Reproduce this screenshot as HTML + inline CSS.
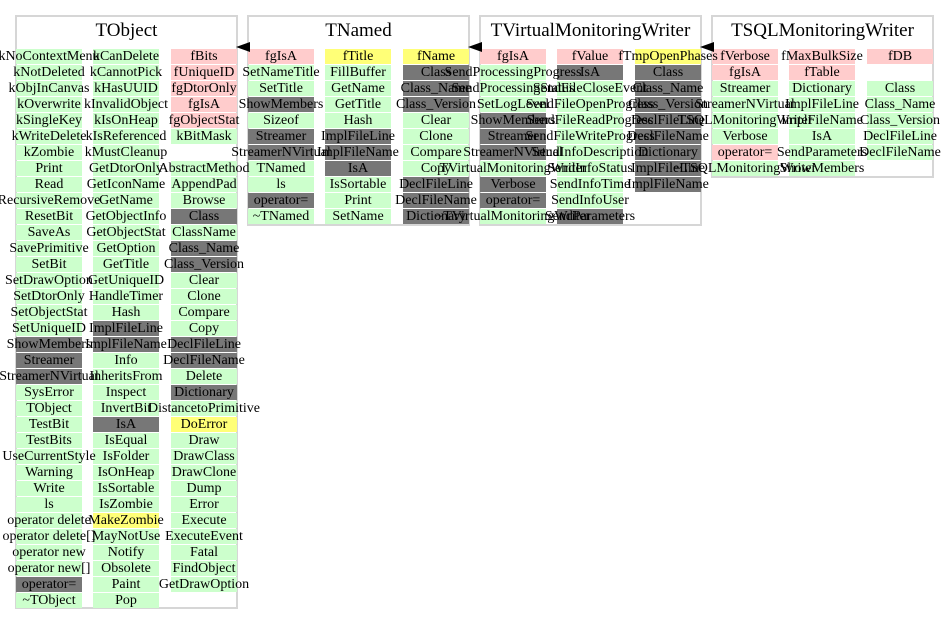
<!DOCTYPE html>
<html><head><meta charset="utf-8"><style>
body{margin:0;width:949px;height:624px;background:#fff;position:relative;overflow:hidden;font-family:"Liberation Serif",serif;}
.box{position:absolute;border:2px solid #d6d6d6;box-sizing:border-box;}
.t{position:absolute;font-size:19px;text-align:center;top:20px;white-space:nowrap;}
.col{position:absolute;top:49px;width:66px;}
.col i{display:block;height:15px;margin-bottom:1px;position:relative;font-style:normal;font-size:14px;}
.col i span{position:absolute;z-index:2;left:50%;transform:translateX(-50%);line-height:16px;white-space:nowrap;color:#000;}
.g{background:#ccffcc}.p{background:#ffcccc}.y{background:#ffff77}.d{background:#777777}
.ar{position:absolute;width:0;height:0;border-top:5px solid transparent;border-bottom:5px solid transparent;border-right:14px solid #000;top:42px;z-index:3}
</style></head><body>
<div class="box" style="left:15px;top:15px;width:223px;height:594px"></div>
<div class="t" style="left:15px;width:223px">TObject</div>
<div class="box" style="left:247px;top:15px;width:223px;height:211px"></div>
<div class="t" style="left:247px;width:223px">TNamed</div>
<div class="box" style="left:479px;top:15px;width:223px;height:211px"></div>
<div class="t" style="left:479px;width:223px">TVirtualMonitoringWriter</div>
<div class="box" style="left:711px;top:15px;width:223px;height:163px"></div>
<div class="t" style="left:711px;width:223px">TSQLMonitoringWriter</div>

<div class="col" style="left:16px">
<i class=g><span>kNoContextMenu</span></i><i class=g><span>kNotDeleted</span></i><i class=g><span>kObjInCanvas</span></i><i class=g><span>kOverwrite</span></i><i class=g><span>kSingleKey</span></i><i class=g><span>kWriteDelete</span></i><i class=g><span>kZombie</span></i><i class=g><span>Print</span></i><i class=g><span>Read</span></i><i class=g><span>RecursiveRemove</span></i><i class=g><span>ResetBit</span></i><i class=g><span>SaveAs</span></i><i class=g><span>SavePrimitive</span></i><i class=g><span>SetBit</span></i><i class=g><span>SetDrawOption</span></i><i class=g><span>SetDtorOnly</span></i><i class=g><span>SetObjectStat</span></i><i class=g><span>SetUniqueID</span></i><i class=d><span>ShowMembers</span></i><i class=d><span>Streamer</span></i><i class=d><span>StreamerNVirtual</span></i><i class=g><span>SysError</span></i><i class=g><span>TObject</span></i><i class=g><span>TestBit</span></i><i class=g><span>TestBits</span></i><i class=g><span>UseCurrentStyle</span></i><i class=g><span>Warning</span></i><i class=g><span>Write</span></i><i class=g><span>ls</span></i><i class=g><span>operator delete</span></i><i class=g><span>operator delete[]</span></i><i class=g><span>operator new</span></i><i class=g><span>operator new[]</span></i><i class=d><span>operator=</span></i><i class=g><span>~TObject</span></i>
</div>
<div class="col" style="left:93px">
<i class=g><span>kCanDelete</span></i><i class=g><span>kCannotPick</span></i><i class=g><span>kHasUUID</span></i><i class=g><span>kInvalidObject</span></i><i class=g><span>kIsOnHeap</span></i><i class=g><span>kIsReferenced</span></i><i class=g><span>kMustCleanup</span></i><i class=g><span>GetDtorOnly</span></i><i class=g><span>GetIconName</span></i><i class=g><span>GetName</span></i><i class=g><span>GetObjectInfo</span></i><i class=g><span>GetObjectStat</span></i><i class=g><span>GetOption</span></i><i class=g><span>GetTitle</span></i><i class=g><span>GetUniqueID</span></i><i class=g><span>HandleTimer</span></i><i class=g><span>Hash</span></i><i class=d><span>ImplFileLine</span></i><i class=d><span>ImplFileName</span></i><i class=g><span>Info</span></i><i class=g><span>InheritsFrom</span></i><i class=g><span>Inspect</span></i><i class=g><span>InvertBit</span></i><i class=d><span>IsA</span></i><i class=g><span>IsEqual</span></i><i class=g><span>IsFolder</span></i><i class=g><span>IsOnHeap</span></i><i class=g><span>IsSortable</span></i><i class=g><span>IsZombie</span></i><i class=y><span>MakeZombie</span></i><i class=g><span>MayNotUse</span></i><i class=g><span>Notify</span></i><i class=g><span>Obsolete</span></i><i class=g><span>Paint</span></i><i class=g><span>Pop</span></i>
</div>
<div class="col" style="left:171px">
<i class=p><span>fBits</span></i><i class=p><span>fUniqueID</span></i><i class=p><span>fgDtorOnly</span></i><i class=p><span>fgIsA</span></i><i class=p><span>fgObjectStat</span></i><i class=g><span>kBitMask</span></i><i></i><i class=g><span>AbstractMethod</span></i><i class=g><span>AppendPad</span></i><i class=g><span>Browse</span></i><i class=d><span>Class</span></i><i class=g><span>ClassName</span></i><i class=d><span>Class_Name</span></i><i class=d><span>Class_Version</span></i><i class=g><span>Clear</span></i><i class=g><span>Clone</span></i><i class=g><span>Compare</span></i><i class=g><span>Copy</span></i><i class=d><span>DeclFileLine</span></i><i class=d><span>DeclFileName</span></i><i class=g><span>Delete</span></i><i class=d><span>Dictionary</span></i><i class=g><span>DistancetoPrimitive</span></i><i class=y><span>DoError</span></i><i class=g><span>Draw</span></i><i class=g><span>DrawClass</span></i><i class=g><span>DrawClone</span></i><i class=g><span>Dump</span></i><i class=g><span>Error</span></i><i class=g><span>Execute</span></i><i class=g><span>ExecuteEvent</span></i><i class=g><span>Fatal</span></i><i class=g><span>FindObject</span></i><i class=g><span>GetDrawOption</span></i>
</div>

<div class="col" style="left:248px">
<i class=p><span>fgIsA</span></i><i class=g><span>SetNameTitle</span></i><i class=g><span>SetTitle</span></i><i class=d><span>ShowMembers</span></i><i class=g><span>Sizeof</span></i><i class=d><span>Streamer</span></i><i class=d><span>StreamerNVirtual</span></i><i class=g><span>TNamed</span></i><i class=g><span>ls</span></i><i class=d><span>operator=</span></i><i class=g><span>~TNamed</span></i>
</div>
<div class="col" style="left:325px">
<i class=y><span>fTitle</span></i><i class=g><span>FillBuffer</span></i><i class=g><span>GetName</span></i><i class=g><span>GetTitle</span></i><i class=g><span>Hash</span></i><i class=d><span>ImplFileLine</span></i><i class=d><span>ImplFileName</span></i><i class=d><span>IsA</span></i><i class=g><span>IsSortable</span></i><i class=g><span>Print</span></i><i class=g><span>SetName</span></i>
</div>
<div class="col" style="left:403px">
<i class=y><span>fName</span></i><i class=d><span>Class</span></i><i class=d><span>Class_Name</span></i><i class=d><span>Class_Version</span></i><i class=g><span>Clear</span></i><i class=g><span>Clone</span></i><i class=g><span>Compare</span></i><i class=g><span>Copy</span></i><i class=d><span>DeclFileLine</span></i><i class=d><span>DeclFileName</span></i><i class=d><span>Dictionary</span></i>
</div>

<div class="col" style="left:480px">
<i class=p><span>fgIsA</span></i><i class=g><span>SendProcessingProgress</span></i><i class=g><span>SendProcessingStatus</span></i><i class=g><span>SetLogLevel</span></i><i class=d><span>ShowMembers</span></i><i class=d><span>Streamer</span></i><i class=d><span>StreamerNVirtual</span></i><i class=g><span>TVirtualMonitoringWriter</span></i><i class=d><span>Verbose</span></i><i class=d><span>operator=</span></i><i class=g><span>~TVirtualMonitoringWriter</span></i>
</div>
<div class="col" style="left:557px">
<i class=p><span>fValue</span></i><i class=d><span>IsA</span></i><i class=g><span>SendFileCloseEvent</span></i><i class=g><span>SendFileOpenProgress</span></i><i class=g><span>SendFileReadProgress</span></i><i class=g><span>SendFileWriteProgress</span></i><i class=g><span>SendInfoDescription</span></i><i class=g><span>SendInfoStatus</span></i><i class=g><span>SendInfoTime</span></i><i class=g><span>SendInfoUser</span></i><i class=d><span>SendParameters</span></i>
</div>
<div class="col" style="left:635px">
<i class=y><span>fTmpOpenPhases</span></i><i class=d><span>Class</span></i><i class=d><span>Class_Name</span></i><i class=d><span>Class_Version</span></i><i class=d><span>DeclFileLine</span></i><i class=d><span>DeclFileName</span></i><i class=d><span>Dictionary</span></i><i class=d><span>ImplFileLine</span></i><i class=d><span>ImplFileName</span></i>
</div>

<div class="col" style="left:712px">
<i class=p><span>fVerbose</span></i><i class=p><span>fgIsA</span></i><i class=g><span>Streamer</span></i><i class=g><span>StreamerNVirtual</span></i><i class=g><span>TSQLMonitoringWriter</span></i><i class=g><span>Verbose</span></i><i class=p><span>operator=</span></i><i class=g><span>~TSQLMonitoringWriter</span></i>
</div>
<div class="col" style="left:789px">
<i class=p><span>fMaxBulkSize</span></i><i class=p><span>fTable</span></i><i class=g><span>Dictionary</span></i><i class=g><span>ImplFileLine</span></i><i class=g><span>ImplFileName</span></i><i class=g><span>IsA</span></i><i class=g><span>SendParameters</span></i><i class=g><span>ShowMembers</span></i>
</div>
<div class="col" style="left:867px">
<i class=p><span>fDB</span></i><i></i><i class=g><span>Class</span></i><i class=g><span>Class_Name</span></i><i class=g><span>Class_Version</span></i><i class=g><span>DeclFileLine</span></i><i class=g><span>DeclFileName</span></i>
</div>

<div class="ar" style="left:236px"></div>
<div class="ar" style="left:468px"></div>
<div class="ar" style="left:700px"></div>
</body></html>
